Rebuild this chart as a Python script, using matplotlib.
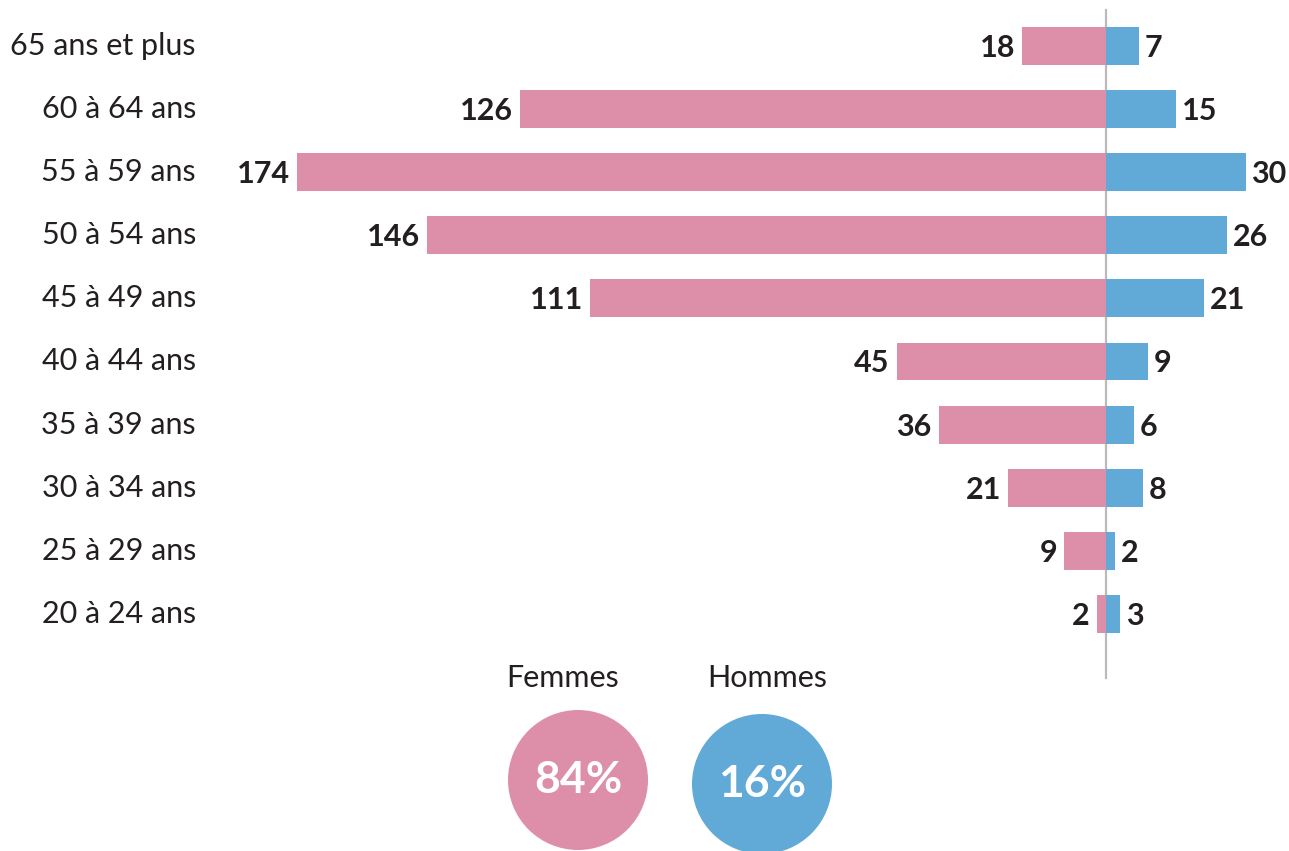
import matplotlib.pyplot as plt
from matplotlib.patches import Circle

plt.rcParams['font.family'] = ['Lato', 'DejaVu Sans']

age_groups = ['65 ans et plus', '60 à 64 ans', '55 à 59 ans', '50 à 54 ans',
              '45 à 49 ans', '40 à 44 ans', '35 à 39 ans', '30 à 34 ans',
              '25 à 29 ans', '20 à 24 ans']
femmes = [18, 126, 174, 146, 111, 45, 36, 21, 9, 2]
hommes = [7, 15, 30, 26, 21, 9, 6, 8, 2, 3]

pink = '#DD8FA9'
blue = '#61AAD8'
dark = '#231F20'

W, H = 1289, 851
fig = plt.figure(figsize=(W / 100, H / 100), dpi=100)
fig.patch.set_facecolor('white')

# bar axes: x in values, y in row index, laid out over the whole figure
x0, px = 1106, 4.65
row0, step = 46, 63.1
ax = fig.add_axes([0, 0, 1, 1])
ax.set_xlim(-x0 / px, (W - x0) / px)
ax.set_ylim((H - row0) / step, -row0 / step)
ax.set_axis_off()

rows = range(len(age_groups))
ax.barh(rows, [-v for v in femmes], height=0.6, color=pink, lw=0)
ax.barh(rows, hommes, height=0.6, color=blue, lw=0)

for i, (lab, f, h) in enumerate(zip(age_groups, femmes, hommes)):
    ax.annotate(lab, (-x0 / px, i), xytext=(196, 0), textcoords='offset pixels',
                ha='right', va='center', fontsize=22, color=dark)
    ax.annotate(str(f), (-f, i), xytext=(-7, -2), textcoords='offset pixels',
                ha='right', va='center', fontsize=22, fontweight='bold', color=dark)
    ax.annotate(str(h), (h, i), xytext=(6, -2), textcoords='offset pixels',
                ha='left', va='center', fontsize=22, fontweight='bold', color=dark)

# center line
ax.plot([0, 0], [-36 / step, (678 - row0) / step], color='#BBBBBB', lw=1.6, zorder=0)

# totals in circles (pixel coordinates)
pa = fig.add_axes([0, 0, 1, 1])
pa.set_xlim(0, W)
pa.set_ylim(H, 0)
pa.set_axis_off()
tot = sum(femmes) + sum(hommes)
pct_f = round(100 * sum(femmes) / tot)
pct_h = round(100 * sum(hommes) / tot)
for cx, cy, col, name, pct, tx in [(578, 780, pink, 'Femmes', pct_f, 563),
                                   (762, 784, blue, 'Hommes', pct_h, 767)]:
    pa.add_patch(Circle((cx, cy), 70, color=col, lw=0))
    pa.text(tx, 678, name, ha='center', va='center', fontsize=22, color=dark)
    pa.text(cx, cy, f'{pct}%', ha='center', va='center', fontsize=32,
            fontweight='bold', color='white')

fig.savefig('out.png', dpi=100, facecolor='white')
